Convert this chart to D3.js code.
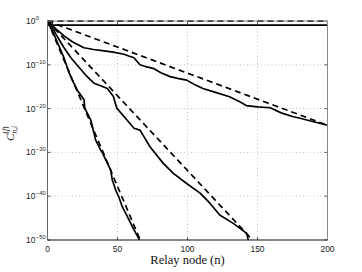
<!DOCTYPE html>
<html lang="en">
<head>
<meta charset="UTF-8">
<title>Relay node decay</title>
<style>
  body { margin: 0; background: #fff; }
  svg { display: block; }
  .tick-label { font-family: "Liberation Sans", Arial, sans-serif; fill: #222; }
  .serif { font-family: "Liberation Serif", "Times New Roman", serif; fill: #111; }
</style>
</head>
<body>

<svg width="362" height="272"></svg>

<script src="https://d3js.org/d3.v7.min.js"></script>
<script>

// Axis ticks
let xTicks = [0, 50, 100, 150, 200];
let yTickExp = [0, -10, -20, -30, -40, -50];

// Curves: relay node n and log10 of C
// top dashed (theory) and flat solid just below it
let nTopDash = [0, 200];
let logTopDash = [-0.05, -0.05];
let nFlat = [0, 1, 2, 4, 60, 120, 200];
let logFlat = [0, -0.6, -0.85, -0.92, -0.94, -0.95, -0.96];

// third pair
let nDash3 = [0, 200];
let logDash3 = [0, -23.8];
let nSolid3 = [0, 1, 5, 11.8, 18, 26, 33, 40.4, 47, 54.6, 58, 61.8, 66, 70, 75.5, 81, 87.5, 93, 99.4, 105, 111, 120, 130, 137, 142, 150, 159, 163, 168, 175, 180.4, 190, 200];
let logSolid3 = [0, -0.4, -1.5, -3.4, -4.8, -6.1, -6.5, -6.8, -7.1, -7.6, -8.0, -8.4, -10, -10.4, -10.8, -11.8, -12.7, -13.1, -13.5, -14.5, -15.4, -16.3, -17.3, -18.4, -19.3, -19.6, -19.8, -20.4, -21.1, -21.8, -22.2, -23.0, -23.8];

// fourth pair
let nDash4 = [0, 150];
let logDash4 = [0, -51.2];
let nSolid4 = [0, 2.3, 6, 11.8, 17, 23.7, 28, 33.2, 38, 42.7, 47, 49.5, 54.6, 61.8, 66, 68.9, 73.2, 82.7, 89.9, 99.4, 109, 116, 123, 132.7, 142.3, 143.4, 144];
let logSolid4 = [0, -0.75, -3, -6.1, -8.5, -11.0, -12.6, -14.2, -14.8, -15.4, -17.2, -19.9, -21.8, -24.5, -24.9, -26.4, -28.7, -32.5, -34.8, -37.1, -39.3, -41.6, -44.3, -46.2, -48.5, -50, -50.5];

// fifth pair (steepest)
let nDash5 = [0, 67];
let logDash5 = [0, -50.6];
let nSolid5 = [0, 1, 4, 8.2, 12, 15.4, 17.7, 21.3, 26.1, 26.6, 30.9, 34.4, 38, 39.1, 41.6, 45.1, 46.3, 48.7, 51.1, 53.4, 55.9, 58.2, 61.8, 65.4, 66];
let logSolid5 = [0, -0.8, -2.6, -5.7, -8.6, -11.8, -13.5, -15.8, -18.0, -19.9, -22.6, -27.2, -29.5, -30.0, -31.7, -34.0, -36.3, -38.6, -40.3, -42.4, -43.9, -45.4, -47.7, -49.8, -50.5];

let series = [
  {n: nTopDash, v: logTopDash, dashed: true},
  {n: nFlat, v: logFlat, dashed: false},
  {n: nDash3, v: logDash3, dashed: true},
  {n: nSolid3, v: logSolid3, dashed: false},
  {n: nDash4, v: logDash4, dashed: true},
  {n: nSolid4, v: logSolid4, dashed: false},
  {n: nDash5, v: logDash5, dashed: true},
  {n: nSolid5, v: logSolid5, dashed: false}
];

let svg = d3.select("svg");
let pLeft = 47.5, pRight = 327.5, pTop = 21, pBottom = 240;

let x = d3.scaleLinear().domain([0, 200]).range([pLeft, pRight]);
let y = d3.scaleLog().domain([1e-50, 1]).range([pBottom, pTop]);
let yTicks = yTickExp.map(e => Math.pow(10, e));

// grid
svg.append("g")
    .selectAll("line")
    .data(xTicks.slice(1, -1))
    .enter().append("line")
    .attr("x1", d => x(d)).attr("x2", d => x(d))
    .attr("y1", pTop).attr("y2", pBottom)
    .attr("stroke", "#b5b5b5").attr("stroke-width", 0.8)
    .attr("stroke-dasharray", "1,2.5");

svg.append("g")
    .selectAll("line")
    .data(yTicks.slice(1, -1))
    .enter().append("line")
    .attr("x1", pLeft).attr("x2", pRight)
    .attr("y1", d => y(d)).attr("y2", d => y(d))
    .attr("stroke", "#b5b5b5").attr("stroke-width", 0.8)
    .attr("stroke-dasharray", "1,2.5");

// inward ticks on all four sides
let tickG = svg.append("g").attr("stroke", "#333").attr("stroke-width", 0.8);
xTicks.forEach(t => {
  tickG.append("line").attr("x1", x(t)).attr("x2", x(t)).attr("y1", pBottom).attr("y2", pBottom - 3);
  tickG.append("line").attr("x1", x(t)).attr("x2", x(t)).attr("y1", pTop).attr("y2", pTop + 3);
});
yTicks.forEach(t => {
  tickG.append("line").attr("x1", pLeft).attr("x2", pLeft + 3).attr("y1", y(t)).attr("y2", y(t));
  tickG.append("line").attr("x1", pRight).attr("x2", pRight - 3).attr("y1", y(t)).attr("y2", y(t));
});

// curves
svg.append("clipPath").attr("id", "plotclip")
  .append("rect").attr("x", pLeft).attr("y", pTop - 3)
  .attr("width", pRight - pLeft).attr("height", pBottom - pTop + 3);

let line = d3.line()
    .x(d => x(d[0]))
    .y(d => y(Math.pow(10, d[1])));

svg.append("g")
    .attr("clip-path", "url(#plotclip)")
    .selectAll("path")
    .data(series)
    .enter().append("path")
    .attr("d", s => line(s.n.map((n, i) => [n, s.v[i]])))
    .attr("fill", "none")
    .attr("stroke", "#000")
    .attr("stroke-width", 1.7)
    .attr("stroke-linejoin", "round")
    .attr("stroke-dasharray", s => s.dashed ? "6,4" : null);

// box
svg.append("line").attr("x1", pLeft).attr("x2", pLeft).attr("y1", pTop).attr("y2", pBottom)
    .attr("stroke", "#666").attr("stroke-width", 1);
svg.append("line").attr("x1", pRight).attr("x2", pRight).attr("y1", pTop).attr("y2", pBottom)
    .attr("stroke", "#888").attr("stroke-width", 1);
svg.append("line").attr("x1", pLeft).attr("x2", pRight).attr("y1", pTop).attr("y2", pTop)
    .attr("stroke", "#888").attr("stroke-width", 1);
svg.append("line").attr("x1", pLeft).attr("x2", pRight).attr("y1", pBottom).attr("y2", pBottom)
    .attr("stroke", "#111").attr("stroke-width", 1.2);

// x tick labels
svg.append("g")
    .selectAll("text")
    .data(xTicks)
    .enter().append("text")
    .attr("class", "tick-label")
    .attr("x", d => x(d))
    .attr("y", 251.5)
    .attr("text-anchor", "middle")
    .attr("font-size", 8.5)
    .text(d => d);

// y tick labels: 10 with superscript exponent
let yLab = svg.append("g");
yTickExp.forEach(e => {
  let ty = y(Math.pow(10, e));
  yLab.append("text")
      .attr("class", "tick-label")
      .attr("x", 35.5).attr("y", ty + 3)
      .attr("text-anchor", "end")
      .attr("font-size", 8.5)
      .text("10");
  yLab.append("text")
      .attr("class", "tick-label")
      .attr("x", 35.8).attr("y", ty - 1)
      .attr("font-size", 5.8)
      .text(e === 0 ? "0" : "\u2212" + Math.abs(e));
});

// x axis label
svg.append("text")
    .attr("class", "serif")
    .attr("x", (pLeft + pRight) / 2)
    .attr("y", 264)
    .attr("text-anchor", "middle")
    .attr("font-size", 12.5)
    .text("Relay node (n)");

// y axis label C_{n,i}^{(f)}
let yl = svg.append("g").attr("transform", "translate(14,141) rotate(-90)");
yl.append("text").attr("class", "serif").attr("x", 0).attr("y", 0)
    .attr("font-size", 11).attr("font-style", "italic").text("C");
yl.append("text").attr("class", "serif").attr("x", 7.5).attr("y", 2.5)
    .attr("font-size", 7.5).attr("font-style", "italic").text("n,i");
let sup = yl.append("text").attr("class", "serif").attr("x", 7.5).attr("y", -6)
    .attr("font-size", 7.5);
sup.append("tspan").text("(");
sup.append("tspan").attr("font-style", "italic").text("f");
sup.append("tspan").text(")");

</script>

</body>
</html>
